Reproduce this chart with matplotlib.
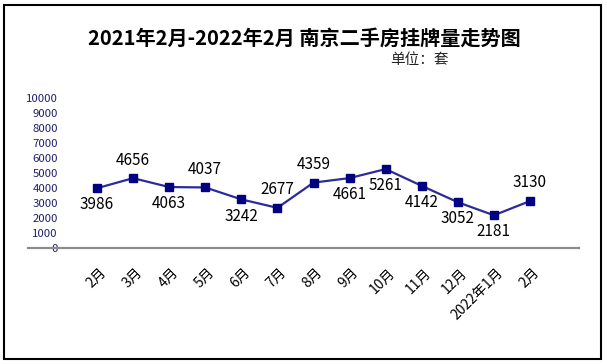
import matplotlib

matplotlib.use("Agg")

import matplotlib.pyplot as plt
from matplotlib.patches import Rectangle

plt.rcParams["font.family"] = ["Noto Sans CJK SC", "DejaVu Sans"]

months = ["2月", "3月", "4月", "5月", "6月", "7月", "8月", "9月", "10月",
          "11月", "12月", "2022年1月", "2月"]
listings = [3986, 4656, 4063, 4037, 3242, 2677, 4359, 4661, 5261,
            4142, 3052, 2181, 3130]
label_side = ["below", "above", "below", "above", "below", "above", "above",
              "below", "below", "below", "below", "below", "above"]
y_ticks = [0, 1000, 2000, 3000, 4000, 5000, 6000, 7000, 8000, 9000, 10000]

W, H = 607, 364
fig = plt.figure(figsize=(W / 100, H / 100), dpi=100)

# frame around the whole picture
fig.patches.append(Rectangle((3.5 / W, 5 / H), 597.5 / W, 354 / H,
                             transform=fig.transFigure, fill=False,
                             edgecolor="black", linewidth=1.5))

fig.text(304 / W, 1 - 38 / H, "2021年2月-2022年2月 南京二手房挂牌量走势图",
         ha="center", va="center", fontsize=14.5, fontweight="bold", color="black")
fig.text(419 / W, 1 - 60 / H, "单位：套", ha="center", va="center",
         fontsize=10.5, color="#222222")

ax = fig.add_axes([28 / W, (H - 248) / H, (579 - 28) / W, 150 / H])
step = (530 - 97) / 12
ax.set_xlim((28 - 97) / step, 12 + (579 - 530) / step)
ax.set_ylim(0, 10000)

x = list(range(len(months)))
ax.plot(x, listings, color="#2B2B9B", linewidth=1.6, marker="s",
        markersize=5.5, markerfacecolor="#000080", markeredgecolor="#000080",
        zorder=3)

for i, (v, side) in enumerate(zip(listings, label_side)):
    dy = 13 if side == "above" else -12
    ax.annotate(str(v), (i, v), xytext=(0, dy), textcoords="offset points",
                ha="center", va="center", fontsize=11, color="black")

for i, m in enumerate(months):
    ax.annotate(m, (i, 0), xytext=(5, -16), textcoords="offset points",
                rotation=45, rotation_mode="anchor", ha="right", va="center",
                fontsize=10, color="black", annotation_clip=False)

for s in ["top", "right", "left"]:
    ax.spines[s].set_visible(False)
ax.spines["bottom"].set_color("#8C8C8C")
ax.spines["bottom"].set_linewidth(1.6)

ax.set_xticks([])
ax.set_yticks(y_ticks)
ax.set_yticklabels([str(t) for t in y_ticks])
ax.tick_params(axis="y", length=0, pad=-21.5, labelsize=8.2, labelcolor="#1F1F6B")
ax.patch.set_alpha(0)

fig.savefig("out.png", dpi=100)
plt.close(fig)
